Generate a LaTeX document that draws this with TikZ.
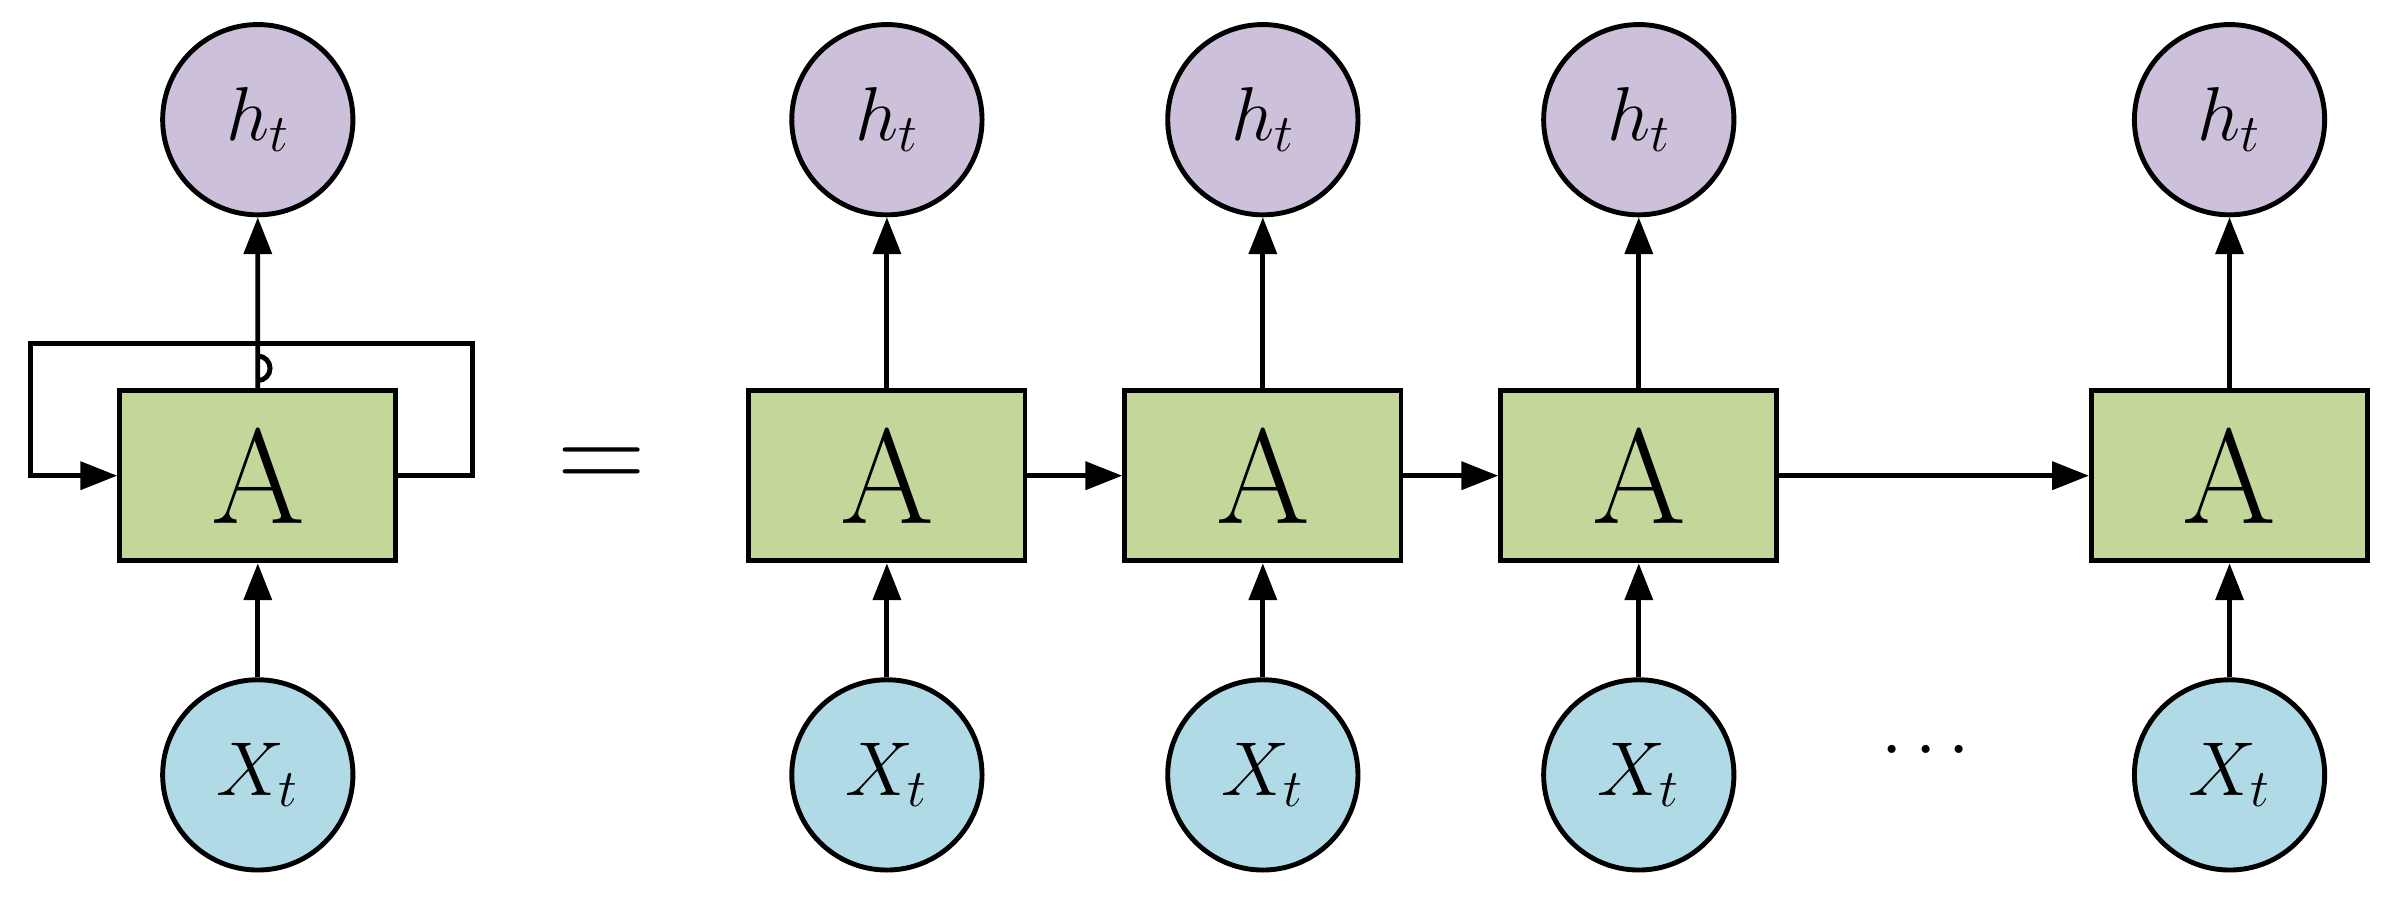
\documentclass[tikz,border=0pt]{standalone}
\usetikzlibrary{arrows.meta}
\begin{document}
\begin{tikzpicture}[x=0.5pt,y=-0.5pt,line width=1.6pt,
  box/.style={draw,fill={rgb,255:red,196;green,215;blue,155},minimum width=90pt,minimum height=55.5pt,inner sep=0,font=\fontsize{44}{44}\selectfont},
  hc/.style={circle,draw,fill={rgb,255:red,204;green,192;blue,218},minimum size=62pt,inner sep=0,font=\fontsize{26}{26}\selectfont},
  xc/.style={circle,draw,fill={rgb,255:red,176;green,218;blue,230},minimum size=62pt,inner sep=0,font=\fontsize{26}{26}\selectfont},
  arr/.style={-{Triangle[length=12pt,width=9pt]}}]
\useasboundingbox (0,0) rectangle (1568,596);
\node[box] (A0) at (168,310) {A};
\node[hc] (h0) at (168,78) {$h_{t}$};
\node[xc] (x0) at (168,505) {$X_{t}$};
\draw[arr] (x0) -- (A0);
\coordinate (r1) at (308,310); \coordinate (r2) at (308,224);
\coordinate (l1) at (20,224); \coordinate (l2) at (20,310);
\draw[arr] (A0.east) -- (r1) -- (r2) -- (l1) -- (l2) -- (A0.west);
\draw[arr] (A0.north) -- (168,232) arc[start angle=-90,end angle=90,radius=8] -- (h0.south);
\node[font=\fontsize{40}{40}\selectfont] (eq) at (392,306) {=};
\foreach \i/\x in {1/578,2/823,3/1068,4/1453}{
  \node[box] (A\i) at (\x,310) {A};
  \node[hc] (h\i) at (\x,78) {$h_{t}$};
  \node[xc] (x\i) at (\x,505) {$X_{t}$};
  \draw[arr] (x\i) -- (A\i);
  \draw[arr] (A\i) -- (h\i);
}
\draw[arr] (A1) -- (A2);
\draw[arr] (A2) -- (A3);
\draw[arr] (A3) -- (A4);
\node[font=\fontsize{40}{40}\selectfont] (dots) at (1255,490) {$\cdots$};
\end{tikzpicture}
\end{document}
